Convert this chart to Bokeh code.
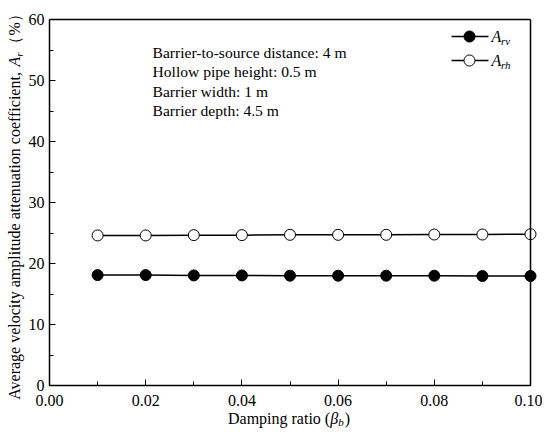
import math
from bokeh.plotting import figure
from bokeh.models import (Range1d, SingleIntervalTicker, NumeralTickFormatter, Label,
                          LinearAxis, FixedTicker)
from bokeh.embed import file_html
from bokeh.resources import INLINE

# ---- data ----
beta_b = [0.01, 0.02, 0.03, 0.04, 0.05, 0.06, 0.07, 0.08, 0.09, 0.10]
A_rv = [18.1, 18.1, 18.05, 18.05, 18.0, 18.0, 18.0, 18.0, 17.95, 17.95]
A_rh = [24.6, 24.6, 24.65, 24.65, 24.7, 24.7, 24.7, 24.75, 24.75, 24.8]
info_lines = ["Barrier-to-source distance: 4 m",
              "Hollow pipe height: 0.5 m",
              "Barrier width: 1 m",
              "Barrier depth: 4.5 m"]

FONT = "Liberation Serif"
FS = 16
SUB = 11

W, H = 542, 428
# pixel geometry of the drawn frame (from the canvas' top-left corner)
FL, FR, FT, FB = 49, 530, 19, 385
XMIN, XMAX, YMIN, YMAX = 0.0, 0.10, 0.0, 60.0
kx = (XMAX - XMIN) / (FR - FL)
ky = (YMAX - YMIN) / (FB - FT)

def sx(X):
    return XMIN + (X - FL) * kx

def sy(Y):
    return YMIN + (FB - Y) * ky

NORMAL = {'A': 722, 'v': 500, 'e': 444, 'r': 333, 'a': 444, 'g': 500, ' ': 250,
          'l': 278, 'o': 500, 'c': 444, 'i': 278, 't': 278, 'y': 500, 'm': 778,
          'p': 500, 'u': 500, 'd': 500, 'n': 500, 'f': 333, ',': 250, 'D': 722,
          '(': 333, ')': 333, '（': 1000, '）': 1000, '%': 833}
ITALIC = {'A': 611, 'r': 389, 'v': 444, 'h': 500, 'b': 500, 'β': 500}

def tw(s, size, table):
    return sum(table.get(ch, 500) for ch in s) * size / 1000.0

p = figure(width=W, height=H, output_backend="svg", toolbar_location=None,
           x_range=Range1d(sx(0), sx(W)), y_range=Range1d(sy(H), sy(0)),
           min_border=0)
p.background_fill_color = "white"
p.border_fill_color = "white"
p.outline_line_color = None
p.xgrid.visible = False
p.ygrid.visible = False

for ax in (p.xaxis[0], p.yaxis[0]):
    ax.axis_line_color = "black"
    ax.axis_line_width = 1.5
    ax.major_tick_in = 6
    ax.major_tick_out = 0
    ax.minor_tick_in = 4
    ax.minor_tick_out = 0
    ax.major_tick_line_color = "black"
    ax.minor_tick_line_color = "black"
    ax.major_label_text_font = FONT
    ax.major_label_text_font_size = f"{FS}px"
    ax.major_label_text_color = "black"

p.xaxis[0].fixed_location = YMIN
p.xaxis[0].bounds = (XMIN, XMAX)
p.xaxis[0].ticker = SingleIntervalTicker(interval=0.02, num_minor_ticks=2)
p.xaxis[0].formatter = NumeralTickFormatter(format="0.00")
p.xaxis[0].major_label_standoff = 9
p.yaxis[0].fixed_location = XMIN
p.yaxis[0].bounds = (YMIN, YMAX)
p.yaxis[0].ticker = SingleIntervalTicker(interval=10, num_minor_ticks=2)
p.yaxis[0].major_label_standoff = 5

# top and right frame lines (axes without ticks)
top = LinearAxis(fixed_location=YMAX, bounds=(XMIN, XMAX), ticker=FixedTicker(ticks=[]),
                 axis_line_color="black", axis_line_width=1.5)
right = LinearAxis(fixed_location=XMAX, bounds=(YMIN, YMAX), ticker=FixedTicker(ticks=[]),
                   axis_line_color="black", axis_line_width=1.5)
p.add_layout(top, "above")
p.add_layout(right, "right")

# series
p.line(beta_b, A_rv, line_color="black", line_width=1.5)
p.scatter(beta_b, A_rv, marker="circle", size=11, fill_color="black",
          line_color="black", line_width=1)
p.line(beta_b, A_rh, line_color="black", line_width=1.5)
p.scatter(beta_b, A_rh, marker="circle", size=11, fill_color="white",
          line_color="black", line_width=1)

def lab(x, y, text, size=FS, style="normal", align="left", baseline="middle", angle=0.0):
    p.add_layout(Label(x=x, y=y, text=text, text_font=FONT, text_font_size=f"{size}px",
                       text_font_style=style, text_align=align, text_baseline=baseline,
                       text_color="black", angle=angle))

# info text block
for i, t in enumerate(info_lines):
    lab(sx(152), sy(52 + i * 19.3), t, size=15.6)

# legend (manual, to keep italic subscripts)
leg_rows = [("rv", "black", 36), ("rh", "white", 60)]
for sub, fill, Y in leg_rows:
    p.line([sx(451), sx(488)], [sy(Y), sy(Y)], line_color="black", line_width=1.5)
    p.scatter([sx(469)], [sy(Y)], marker="circle", size=11, fill_color=fill,
              line_color="black", line_width=1)
    lab(sx(491), sy(Y), "A", style="italic")
    lab(sx(491 + 9.5), sy(Y + 4), sub, size=SUB, style="italic")

# x-axis label: Damping ratio (β_b)
xp1 = "Damping ratio ("
L = tw(xp1, FS, NORMAL) + tw("β", FS, ITALIC) + tw("b", SUB, ITALIC) + tw(")", FS, NORMAL)
X0 = 288 - L / 2
Yx = 418
lab(sx(X0), sy(Yx), xp1)
X1 = X0 + tw(xp1, FS, NORMAL)
lab(sx(X1), sy(Yx), "β", style="italic")
X2 = X1 + tw("β", FS, ITALIC)
lab(sx(X2), sy(Yx + 3.5), "b", size=SUB, style="italic")
X3 = X2 + tw("b", SUB, ITALIC) + 1
lab(sx(X3), sy(Yx), ")")

# y-axis label: Average velocity amplitude attenuation coefficient, A_r（%）
yp1 = "Average velocity amplitude attenuation coefficient, "
yp3 = "（%）"
Ly = tw(yp1, FS, NORMAL) + tw("A", FS, ITALIC) + tw("r", SUB, ITALIC) + tw(yp3, FS, NORMAL)
Xy = 14
Y0 = 203 + Ly / 2
ang = math.pi / 2
lab(sx(Xy), sy(Y0), yp1, angle=ang)
Y1 = Y0 - tw(yp1, FS, NORMAL)
lab(sx(Xy), sy(Y1), "A", style="italic", angle=ang)
Y2 = Y1 - tw("A", FS, ITALIC)
lab(sx(Xy + 4), sy(Y2), "r", size=SUB, style="italic", angle=ang)
Y3 = Y2 - tw("r", SUB, ITALIC) - 1
lab(sx(Xy), sy(Y3), yp3, angle=ang)

open("out.html", "w").write(file_html(p, INLINE))
